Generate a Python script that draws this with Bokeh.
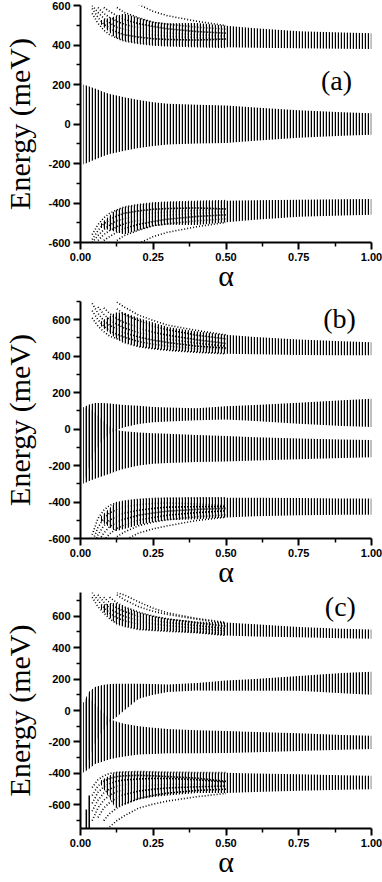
import math
from bokeh.plotting import figure
from bokeh.layouts import column
from bokeh.models import FixedTicker, Label, CustomJSTickFormatter
from bokeh.embed import file_html
from bokeh.resources import INLINE

NaN = float("nan")

# ---------------- common grids / ticks ----------------
ALPHA_CURVE = [0.04, 0.06, 0.08, 0.10, 0.125, 0.15, 0.20, 0.25, 0.30, 0.40, 0.50]
ALPHA_OUTER = [0.07, 0.12, 0.15, 0.20, 0.25, 0.30, 0.40, 0.50, 0.60, 0.75, 0.90, 1.00]
ALPHA_INNER = [0.01, 0.03, 0.05, 0.075, 0.10, 0.125, 0.15, 0.20, 0.25, 0.30, 0.40, 0.50, 0.60, 0.75, 0.90, 1.00]
X_TICKS = [0.0, 0.25, 0.5, 0.75, 1.0]
X_MINOR = [0.125, 0.375, 0.625, 0.875]
Y_TICKS = [-600, -400, -200, 0, 200, 400, 600]
A_Y_MINOR = [-500, -300, -100, 100, 300, 500]
B_Y_MINOR = [-500, -300, -100, 100, 300, 500, 700]
C_Y_MINOR = [-700, -500, -300, -100, 100, 300, 500, 700]

# ---------------- panel (a) ----------------
A_TOP_LO = [505, 437, 420, 408, 400, 396, 392, 388, 386, 383, 381, 380]
A_TOP_HI = [525, 545, 560, 538, 518, 510, 512, 498, 485, 470, 463, 460]
A_TOP_C1 = [560, 510, 475, 452, 435, 420, 408, 400, 396, 392, 388]
A_TOP_C2 = [585, 540, 505, 485, 465, 452, 440, 432, 428, 425, 430]
A_TOP_C3 = [600, 565, 535, 512, 490, 478, 462, 452, 446, 438, 430]
A_TOP_C4 = [NaN, 590, 560, 540, 520, 505, 485, 472, 462, 452, 445]
A_TOP_C5 = [NaN, NaN, 590, 570, 548, 530, 508, 494, 482, 468, 460]
A_TOP_C6 = [NaN, NaN, NaN, NaN, 590, 565, 538, 515, 505, 490, 480]
A_TOP_C7 = [NaN, NaN, NaN, NaN, NaN, NaN, 605, 570, 548, 520, 498]
A_MID_HI = [200, 190, 180, 165, 152, 144, 136, 122, 110, 102, 97, 94, 84, 70, 60, 55]
A_MID_LO = [-205, -192, -180, -165, -152, -144, -136, -122, -112, -104, -99, -96, -85, -70, -60, -55]
A_BOT_HI = [-505, -437, -420, -408, -400, -396, -392, -388, -386, -383, -381, -380]
A_BOT_LO = [-525, -545, -560, -538, -518, -510, -512, -498, -485, -470, -463, -460]
A_BOT_C1 = [-560, -510, -475, -452, -435, -420, -408, -400, -396, -392, -388]
A_BOT_C2 = [-585, -540, -505, -485, -465, -452, -440, -432, -428, -425, -430]
A_BOT_C3 = [-600, -565, -535, -512, -490, -478, -462, -452, -446, -438, -430]
A_BOT_C4 = [NaN, -590, -560, -540, -520, -505, -485, -472, -462, -452, -445]
A_BOT_C5 = [NaN, NaN, -590, -570, -548, -530, -508, -494, -482, -468, -460]
A_BOT_C6 = [NaN, NaN, NaN, NaN, -590, -565, -538, -515, -505, -490, -480]
A_BOT_C7 = [NaN, NaN, NaN, NaN, NaN, NaN, -605, -570, -548, -520, -498]

# ---------------- panel (b) ----------------
B_TOP_LO = [565, 500, 475, 452, 441, 432, 421, 413, 410, 407, 405, 405]
B_TOP_HI = [590, 640, 640, 610, 585, 560, 535, 518, 505, 492, 482, 477]
B_TOP_C1 = [610, 565, 535, 510, 495, 475, 452, 441, 432, 421, 413]
B_TOP_C2 = [650, 600, 565, 540, 520, 505, 480, 465, 455, 440, 440]
B_TOP_C3 = [690, 635, 595, 570, 548, 530, 505, 488, 475, 455, 445]
B_TOP_C4 = [NaN, 670, 630, 600, 575, 555, 528, 510, 495, 472, 455]
B_TOP_C5 = [NaN, NaN, 665, 635, 605, 585, 555, 532, 515, 490, 470]
B_TOP_C6 = [NaN, NaN, NaN, NaN, 660, 630, 595, 565, 545, 515, 495]
B_TOP_C7 = [NaN, NaN, NaN, NaN, 697, 670, 625, 596, 570, 541, 517]
B_UP_HI = [120, 135, 143, 143, 140, 136, 132, 128, 121, 118, 115, 125, 132, 145, 158, 166]
B_UP_LO = [-300, -200, -120, -60, -25, -5, 10, 28, 38, 42, 48, 53, 45, 29, 17, 11]
B_DN_HI = [120, 110, 90, 50, 15, -5, -12, -18, -22, -26, -32, -38, -44, -52, -57, -60]
B_DN_LO = [-300, -285, -272, -258, -245, -230, -217, -200, -190, -186, -181, -177, -172, -165, -158, -155]
B_BOT_HI = [-480, -403, -395, -385, -380, -378, -377, -377, -377, -378, -380, -380]
B_BOT_LO = [-505, -560, -548, -525, -510, -500, -495, -485, -478, -473, -470, -470]
B_BOT_C1 = [-580, -490, -445, -418, -403, -395, -385, -380, -378, -377, -377]
B_BOT_C2 = [-620, -540, -490, -460, -440, -428, -415, -408, -405, -410, -420]
B_BOT_C3 = [-660, -580, -530, -500, -478, -462, -445, -435, -428, -425, -425]
B_BOT_C4 = [NaN, -620, -570, -535, -510, -495, -472, -460, -450, -440, -435]
B_BOT_C5 = [NaN, NaN, -610, -575, -545, -525, -500, -485, -472, -458, -448]
B_BOT_C6 = [NaN, NaN, NaN, NaN, -590, -565, -530, -510, -497, -480, -470]
B_BOT_C7 = [NaN, NaN, NaN, NaN, NaN, -610, -570, -547, -530, -501, -483]

# ---------------- panel (c) ----------------
C_TOP_LO = [645, 555, 535, 515, 509, 503, 492, 477, 470, 465, 460, 456]
C_TOP_HI = [670, 685, 660, 625, 600, 585, 565, 560, 548, 530, 520, 515]
C_TOP_C1 = [720, 660, 620, 583, 551, 535, 515, 509, 503, 495, 477]
C_TOP_C2 = [750, 700, 655, 620, 590, 570, 545, 530, 520, 505, 490]
C_TOP_C3 = [NaN, 735, 690, 650, 620, 598, 570, 552, 540, 522, 505]
C_TOP_C4 = [NaN, NaN, 720, 685, 652, 630, 595, 575, 560, 540, 520]
C_TOP_C5 = [NaN, NaN, NaN, 720, 685, 660, 625, 600, 582, 558, 535]
C_TOP_C6 = [NaN, NaN, NaN, NaN, 735, 705, 660, 630, 610, 580, 555]
C_TOP_C7 = [NaN, NaN, NaN, NaN, 750, 735, 690, 650, 620, 585, 560]
C_UP_HI = [50, 120, 150, 162, 168, 170, 170, 170, 168, 165, 175, 190, 200, 220, 238, 247]
C_UP_LO = [-395, -300, -200, -130, -70, -40, 0, 75, 100, 117, 127, 125, 125, 125, 110, 100]
C_DN_HI = [50, 80, 40, -10, -55, -72, -85, -100, -110, -118, -125, -130, -137, -145, -155, -160]
C_DN_LO = [-395, -370, -340, -325, -310, -300, -292, -280, -276, -272, -271, -270, -265, -258, -250, -245]
C_BOT_HI = [-445, -393, -390, -388, -390, -392, -394, -395, -400, -405, -412, -415]
C_BOT_LO = [-470, -620, -600, -565, -550, -540, -525, -525, -518, -510, -503, -500]
C_BOT_C1 = [-490, -440, -415, -400, -393, -390, -388, -390, -392, -394, -395]
C_BOT_C2 = [-540, -480, -450, -432, -420, -415, -412, -415, -420, -430, -450]
C_BOT_C3 = [-590, -520, -485, -465, -450, -442, -435, -432, -432, -440, -455]
C_BOT_C4 = [-640, -570, -525, -500, -480, -470, -460, -455, -452, -455, -462]
C_BOT_C5 = [-700, -620, -570, -540, -515, -500, -485, -475, -470, -468, -470]
C_BOT_C6 = [NaN, -680, -620, -585, -555, -535, -512, -500, -492, -485, -480]
C_BOT_C7 = [NaN, NaN, -700, -655, -620, -595, -560, -540, -525, -508, -500]
C_BOT_C8 = [NaN, NaN, NaN, -740, -700, -670, -620, -595, -575, -548, -527]
C_COL_ALPHA = [0.02, 0.03]
C_COL_TOP = [-630, -540]
C_COL_BOT = [-750, -750]

BLACK = "black"
SERIF = "Liberation Serif"
SANS = "Liberation Sans"


def clean(xs, ys):
    pts = [(x, y) for x, y in zip(xs, ys) if not math.isnan(y)]
    return [q[0] for q in pts], [q[1] for q in pts]


def make_panel(y_range, y_minor, tag, tag_xy, outer_bands, inner_bands, curves,
               b_top, frame_h, b_bot):
    p = figure(frame_width=291, frame_height=frame_h, x_range=(0, 1), y_range=y_range,
               output_backend="svg", toolbar_location=None,
               min_border_left=79, min_border_right=12,
               min_border_top=b_top, min_border_bottom=b_bot)
    p.outline_line_color = None
    p.grid.visible = False
    p.background_fill_color = "white"

    for lo, hi in outer_bands:
        p.varea(x=ALPHA_OUTER, y1=lo, y2=hi, fill_color=None, fill_alpha=0,
                hatch_pattern="|", hatch_color=BLACK, hatch_scale=3, hatch_weight=1.4)
    for lo, hi in inner_bands:
        p.varea(x=ALPHA_INNER, y1=lo, y2=hi, fill_color=None, fill_alpha=0,
                hatch_pattern="|", hatch_color=BLACK, hatch_scale=3, hatch_weight=1.5)
    for ys in curves:
        xs, yy = clean(ALPHA_CURVE, ys)
        p.line(xs, yy, line_color=BLACK, line_width=1.6, line_dash="1 2")

    p.xaxis.ticker = FixedTicker(ticks=X_TICKS, minor_ticks=X_MINOR)
    p.yaxis.ticker = FixedTicker(ticks=Y_TICKS, minor_ticks=y_minor)
    p.xaxis.formatter = CustomJSTickFormatter(code="return tick.toFixed(2);")
    p.yaxis.formatter = CustomJSTickFormatter(code="return tick.toFixed(0);")
    for ax in (p.xaxis[0], p.yaxis[0]):
        ax.axis_line_width = 2
        ax.axis_line_color = BLACK
        ax.major_tick_line_width = 2
        ax.minor_tick_line_width = 1.5
        ax.major_tick_line_color = BLACK
        ax.minor_tick_line_color = BLACK
        ax.major_tick_in = 0
        ax.major_tick_out = 7
        ax.minor_tick_in = 0
        ax.minor_tick_out = 4
        ax.major_label_text_font = SANS
        ax.major_label_text_font_style = "bold"
        ax.major_label_text_font_size = "11px"
        ax.major_label_text_color = BLACK
        ax.axis_label_text_font = SERIF
        ax.axis_label_text_font_style = "normal"
        ax.axis_label_text_color = BLACK
    p.xaxis.major_label_standoff = 3
    p.yaxis.major_label_standoff = 3
    p.xaxis.axis_label = "α"
    p.xaxis.axis_label_text_font_size = "30px"
    p.xaxis.axis_label_standoff = -5
    p.yaxis.axis_label = "Energy (meV)"
    p.yaxis.axis_label_text_font_size = "30px"
    p.yaxis.axis_label_standoff = 9

    p.add_layout(Label(x=tag_xy[0], y=tag_xy[1], text=tag, text_font=SERIF,
                       text_font_size="28px", text_align="center", text_baseline="middle",
                       text_color=BLACK))
    return p


pa = make_panel((-600, 600), A_Y_MINOR, "(a)", (0.88, 220),
                [(A_TOP_LO, A_TOP_HI), (A_BOT_LO, A_BOT_HI)],
                [(A_MID_LO, A_MID_HI)],
                [A_TOP_C1, A_TOP_C2, A_TOP_C3, A_TOP_C4, A_TOP_C5, A_TOP_C6, A_TOP_C7,
                 A_BOT_C1, A_BOT_C2, A_BOT_C3, A_BOT_C4, A_BOT_C5, A_BOT_C6, A_BOT_C7],
                5, 237, 54)

pb = make_panel((-600, 700), B_Y_MINOR, "(b)", (0.89, 605),
                [(B_TOP_LO, B_TOP_HI), (B_BOT_LO, B_BOT_HI)],
                [(B_UP_LO, B_UP_HI), (B_DN_LO, B_DN_HI)],
                [B_TOP_C1, B_TOP_C2, B_TOP_C3, B_TOP_C4, B_TOP_C5, B_TOP_C6, B_TOP_C7,
                 B_BOT_C1, B_BOT_C2, B_BOT_C3, B_BOT_C4, B_BOT_C5, B_BOT_C6, B_BOT_C7],
                5, 237, 54)

pc = make_panel((-750, 750), C_Y_MINOR, "(c)", (0.893, 662),
                [(C_TOP_LO, C_TOP_HI), (C_BOT_LO, C_BOT_HI)],
                [(C_UP_LO, C_UP_HI), (C_DN_LO, C_DN_HI)],
                [C_TOP_C1, C_TOP_C2, C_TOP_C3, C_TOP_C4, C_TOP_C5, C_TOP_C6, C_TOP_C7,
                 C_BOT_C1, C_BOT_C2, C_BOT_C3, C_BOT_C4, C_BOT_C5, C_BOT_C6, C_BOT_C7, C_BOT_C8],
                0, 236, 54)
pc.segment(x0=C_COL_ALPHA, y0=C_COL_BOT, x1=C_COL_ALPHA, y1=C_COL_TOP,
           line_color=BLACK, line_width=1.5)

layout = column(pa, pb, pc, spacing=0)
open("out.html", "w").write(file_html(layout, INLINE))
